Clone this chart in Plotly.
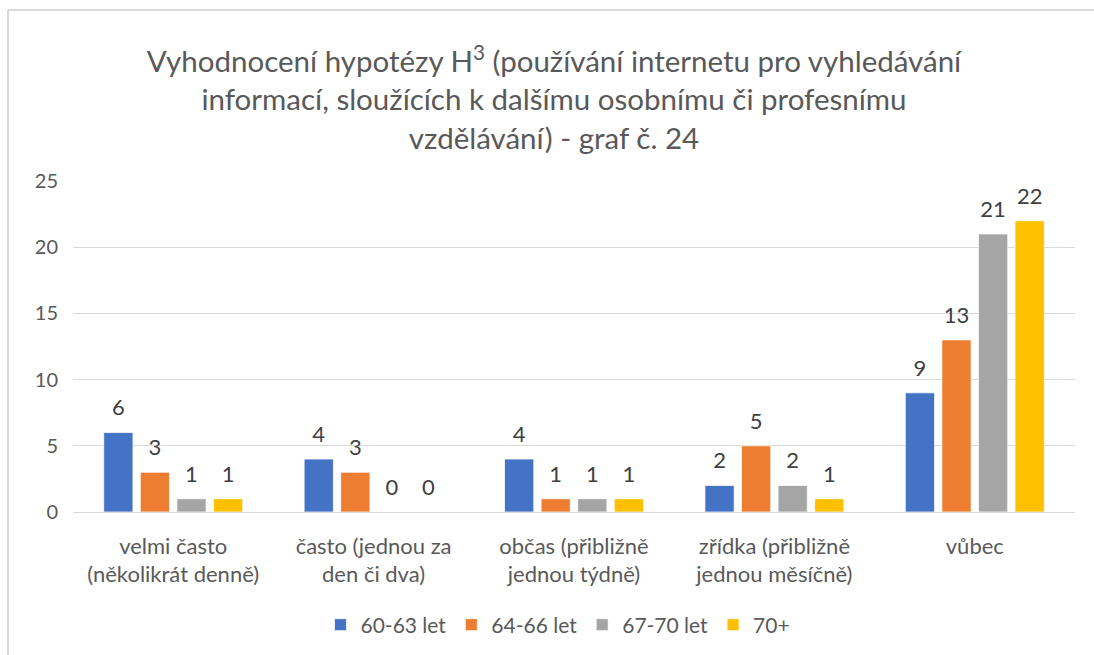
import plotly.graph_objects as go

categories = ["velmi často<br>(několikrát denně)", "často (jednou za<br>den či dva)",
              "občas (přibližně<br>jednou týdně)", "zřídka (přibližně<br>jednou měsíčně)", "vůbec"]
series_names = ["60-63 let", "64-66 let", "67-70 let", "70+"]
values_60_63 = [6, 4, 4, 2, 9]
values_64_66 = [3, 3, 1, 5, 13]
values_67_70 = [1, 0, 1, 2, 21]
values_70p = [1, 0, 1, 1, 22]
all_values = [values_60_63, values_64_66, values_67_70, values_70p]
colors = ["#4472C4", "#ED7D31", "#A5A5A5", "#FFC000"]
y_ticks = [0, 5, 10, 15, 20, 25]

FONT = "Lato, 'Open Sans', sans-serif"

fig = go.Figure()
for name, vals, col in zip(series_names, all_values, colors):
    fig.add_trace(go.Bar(x=categories, y=vals, name=name, marker_color=col,
                         marker_line_color="white", marker_line_width=0.75,
                         offsetgroup=name, hoverinfo="skip"))
for name, vals in zip(series_names, all_values):
    fig.add_trace(go.Scatter(x=categories, y=vals, mode="markers+text", text=[str(v) for v in vals],
                             textposition="top center", offsetgroup=name,
                             marker=dict(size=17, opacity=0), showlegend=False,
                             textfont=dict(size=22, color="#404040", family=FONT),
                             hoverinfo="skip"))

L, R, T, B = 73, 19, 181, 143
W, H = 1094, 655
pw, ph = W - L - R, H - T - B
bx = (8 - L) / pw
by = (H - B - 10) / ph

fig.update_layout(
    width=W, height=H,
    margin=dict(l=L, r=R, t=T, b=B),
    paper_bgcolor="white", plot_bgcolor="white",
    barmode="group", bargap=0.27, bargroupgap=0.2,
    scattermode="group", scattergap=0.27,
    font=dict(family=FONT, color="#595959", size=20),
    title=dict(text="Vyhodnocení hypotézy H<sup>3</sup> (používání internetu pro vyhledávání<br>informací, sloužících k dalšímu osobnímu či profesnímu<br>vzdělávání) - graf č. 24",
               x=554 / W, xanchor="center", y=1 - 72 / H, yanchor="middle",
               font=dict(size=29.5, color="#595959", family=FONT)),
    legend=dict(orientation="h", x=0.484, xanchor="center", yref="container", y=1 - 625 / H,
                yanchor="middle",
                font=dict(size=21, color="#595959", family=FONT), itemclick=False),
    shapes=[
        dict(type="line", xref="paper", yref="paper", x0=bx, x1=bx, y0=-0.5, y1=by,
             line=dict(color="#D9D9D9", width=2)),
        dict(type="line", xref="paper", yref="paper", x0=bx, x1=1.1, y0=by, y1=by,
             line=dict(color="#D9D9D9", width=2)),
    ],
)
fig.update_yaxes(range=[0, 25], tickvals=y_ticks, showgrid=True, gridcolor="#D9D9D9", gridwidth=1.3,
                 zeroline=False, showline=False, ticks="", ticklabelstandoff=14,
                 tickfont=dict(size=20, color="#595959"))
fig.update_xaxes(showline=True, linecolor="#D9D9D9", linewidth=1.3, ticks="", ticklabelstandoff=14,
                 tickfont=dict(size=22, color="#595959"))

fig.write_html("out.html", config={"displayModeBar": False},
               post_script="document.body.style.margin='0';document.body.style.overflow='hidden';")
